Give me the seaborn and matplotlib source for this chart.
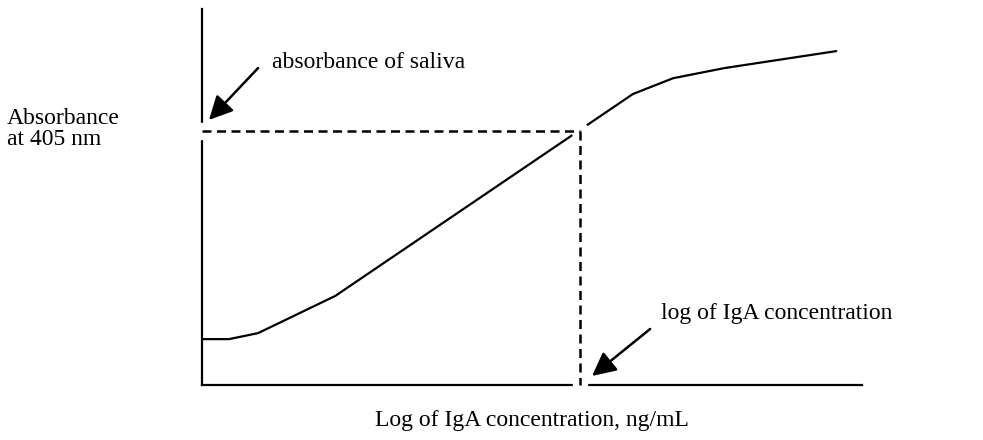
import matplotlib
matplotlib.use("Agg")
import matplotlib.pyplot as plt
import pandas as pd
import seaborn as sns

sns.set_theme(style="white")
plt.rcParams["font.family"] = ["Liberation Serif", "DejaVu Serif"]
plt.rcParams["text.color"] = "black"

# standard curve (log conc vs absorbance, arbitrary units)
log_conc = [0.0, 0.41, 0.85, 2.02, 6.53, 7.14, 7.92, 9.61]
absorb = [0.122, 0.122, 0.138, 0.237, 0.774, 0.816, 0.843, 0.888]
saliva_abs = 0.676
saliva_conc = 5.73

df = pd.DataFrame({"x": log_conc, "y": absorb})

fig = plt.figure(figsize=(9.83, 4.4), dpi=100)
ax = fig.add_axes([202 / 983, 55 / 440, 660 / 983, 376 / 440])
ax.set_xlim(0, 10); ax.set_ylim(0, 1)

sns.lineplot(data=df, x="x", y="y", sort=False, estimator=None, color="black", lw=1.6, ax=ax, zorder=3)
# white gap where the dashed guides cross the curve and the axes
ax.plot([saliva_conc], [saliva_abs], "o", ms=12, color="white", zorder=4)
ax.plot([0], [saliva_abs], "s", ms=11, color="white", zorder=4, clip_on=False)
ax.plot([saliva_conc], [0], "s", ms=10, color="white", zorder=4, clip_on=False)
ax.plot([0, saliva_conc], [saliva_abs, saliva_abs], ls=(0, (3.6, 2.2)), color="black", lw=1.8, zorder=5, clip_on=False)
ax.plot([saliva_conc, saliva_conc], [saliva_abs, 0], ls=(0, (3.6, 2.2)), color="black", lw=1.8, zorder=5, clip_on=False)

for s in ["top", "right"]:
    ax.spines[s].set_visible(False)
for s in ["left", "bottom"]:
    ax.spines[s].set_color("black"); ax.spines[s].set_linewidth(1.6)
ax.set_xticks([]); ax.set_yticks([])
ax.set_xlabel(""); ax.set_ylabel("")

arrow = dict(arrowstyle="-|>,head_length=0.6,head_width=0.3", color="black", lw=1.8, mutation_scale=24, shrinkA=0, shrinkB=0)
ax.annotate("", xy=(0.106, 0.705), xytext=(0.85, 0.843), arrowprops=arrow)
ax.text(1.06, 0.859, "absorbance of saliva", fontsize=17, va="center", ha="left")
ax.annotate("", xy=(5.91, 0.024), xytext=(6.79, 0.149), arrowprops=arrow, annotation_clip=False)
ax.text(6.95, 0.191, "log of IgA concentration", fontsize=17, va="center", ha="left")

fig.text(7 / 983, 1 - 129 / 440, "Absorbance\nat 405 nm", fontsize=17, va="center", ha="left", linespacing=1.05)
fig.text(532 / 983, 1 - 420 / 440, "Log of IgA concentration, ng/mL", fontsize=17, va="center", ha="center")

fig.savefig("out.png", dpi=100)
